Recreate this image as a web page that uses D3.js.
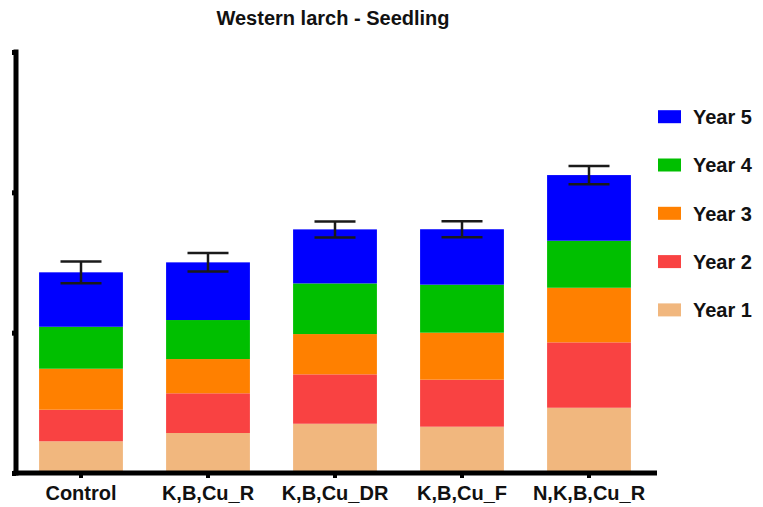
<!DOCTYPE html>
<html>
<head>
<meta charset="utf-8">
<script src="https://cdn.jsdelivr.net/npm/d3@7"></script>
<style>
  html, body { margin: 0; padding: 0; background: #fff; }
  svg { display: block; }
  text { font-family: Arial, "Liberation Sans", sans-serif; font-weight: bold; fill: #111; }
</style>
</head>
<body>
<svg id="chart" width="763" height="507"></svg>
<script>
const title = "Western larch - Seedling";
const categories = ["Control", "K,B,Cu_R", "K,B,Cu_DR", "K,B,Cu_F", "N,K,B,Cu_R"];
const seriesNames = ["Year 1", "Year 2", "Year 3", "Year 4", "Year 5"];
const year1 = [0.226, 0.285, 0.351, 0.330, 0.465];
const year2 = [0.225, 0.283, 0.352, 0.335, 0.466];
const year3 = [0.292, 0.244, 0.287, 0.335, 0.389];
const year4 = [0.299, 0.278, 0.361, 0.342, 0.335];
const year5 = [0.388, 0.411, 0.385, 0.395, 0.468];
const errors = [0.078, 0.066, 0.057, 0.057, 0.065];
const yTicks = [0, 1, 2, 3];
const colors = ["#F1B77E", "#F94242", "#FF8000", "#00BF00", "#0000FF"];

const seriesValues = [year1, year2, year3, year4, year5];
const table = categories.map((c, i) => {
  const row = { category: c };
  seriesNames.forEach((s, k) => row[s] = seriesValues[k][i]);
  return row;
});

const svg = d3.select("#chart");

const x = d3.scaleBand()
  .domain(categories)
  .range([17.5, 652.5])
  .paddingInner(0.34)
  .paddingOuter(0.17);

const y = d3.scaleLinear().domain([0, 3]).range([473, 52]);

const stack = d3.stack().keys(seriesNames);
const stacked = stack(table);

// bars
svg.append("g").selectAll("g")
  .data(stacked)
  .join("g")
  .attr("fill", (d, i) => colors[i])
  .selectAll("rect")
  .data(d => d)
  .join("rect")
  .attr("x", d => x(d.data.category))
  .attr("width", x.bandwidth())
  .attr("y", d => y(d[1]))
  .attr("height", d => y(d[0]) - y(d[1]));

// error bars
const totals = table.map(r => seriesNames.reduce((a, s) => a + r[s], 0));
const eb = svg.append("g").attr("stroke", "#1a1a1a").attr("stroke-width", 2.5);
categories.forEach((c, i) => {
  const cx = x(c) + x.bandwidth() / 2;
  const hi = y(totals[i] + errors[i]);
  const lo = y(totals[i] - errors[i]);
  eb.append("line").attr("x1", cx).attr("x2", cx).attr("y1", hi).attr("y2", lo);
  eb.append("line").attr("x1", cx - 20.5).attr("x2", cx + 20.5).attr("y1", hi).attr("y2", hi);
  eb.append("line").attr("x1", cx - 20.5).attr("x2", cx + 20.5).attr("y1", lo).attr("y2", lo);
});

// y axis
const yAxis = svg.append("g").attr("transform", "translate(16,0)")
  .call(d3.axisLeft(y).tickValues(yTicks).tickSize(4).tickFormat(""));
yAxis.select(".domain").remove();
yAxis.selectAll(".tick line").attr("stroke", "#000").attr("stroke-width", 5);
svg.append("line")
  .attr("x1", 16).attr("x2", 16)
  .attr("y1", y(3) - 2.5).attr("y2", y(0) + 2.5)
  .attr("stroke", "#000").attr("stroke-width", 5);

// x axis
const xAxis = svg.append("g").attr("transform", `translate(0,${y(0)})`)
  .call(d3.axisBottom(x).tickSize(5).tickPadding(0));
xAxis.select(".domain").remove();
xAxis.selectAll(".tick line").attr("stroke", "#000").attr("stroke-width", 4);
xAxis.selectAll(".tick text")
  .attr("y", 27).attr("dy", 0)
  .style("font-size", "20px")
  .style("font-family", "Arial, 'Liberation Sans', sans-serif")
  .style("font-weight", "bold")
  .attr("fill", "#111");
svg.append("line")
  .attr("x1", 13.5).attr("x2", 657)
  .attr("y1", y(0)).attr("y2", y(0))
  .attr("stroke", "#000").attr("stroke-width", 5);

// title
svg.append("text")
  .attr("x", 333).attr("y", 25)
  .attr("text-anchor", "middle")
  .style("font-size", "20px")
  .text(title);

// legend
const legendOrder = seriesNames.map((s, i) => ({ name: s, color: colors[i] })).reverse();
const lg = svg.append("g");
legendOrder.forEach((d, i) => {
  const cy = 116.7 + i * 48.3;
  lg.append("rect").attr("x", 658).attr("y", cy - 6.5).attr("width", 23).attr("height", 13).attr("fill", d.color);
  lg.append("text").attr("x", 693).attr("y", cy + 7.3).style("font-size", "20px").text(d.name);
});
</script>
</body>
</html>
